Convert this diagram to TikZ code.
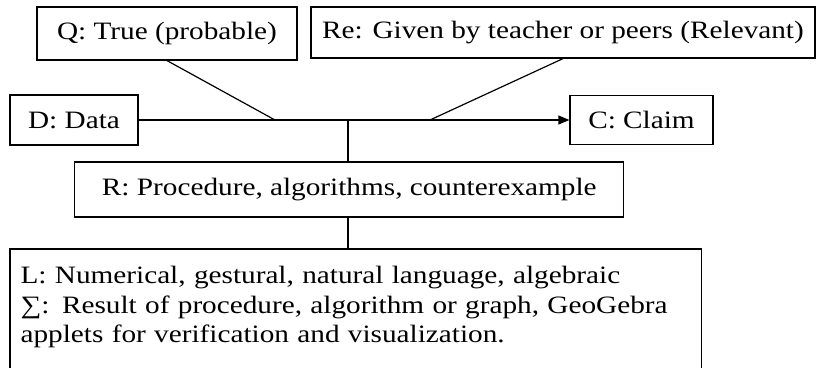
\documentclass[tikz,border=0pt]{standalone}
\usepackage{fontspec}
\setmainfont{Liberation Serif}[FakeStretch=1.17]
\usetikzlibrary{arrows.meta, positioning}

\tikzset{
  box/.style={draw, line width=1.2pt, inner sep=0pt, font=\fontsize{25}{29.5}\selectfont},
  link/.style={line width=1.2pt},
}

\begin{document}
\begin{tikzpicture}[x=1pt, y=-1pt, >={Triangle[length=11pt,width=9pt]}]
    \useasboundingbox (0,0) rectangle (819,367);
    \node[box, minimum width=260pt, minimum height=53pt] (q) at (167,33.5) {Q: True (probable)};
    \node[box, minimum width=504pt, minimum height=51pt] (re) at (563,32.5) {Re: Given by teacher or peers (Relevant)};
    \node[box, minimum width=128pt, minimum height=50pt] (d) at (74,120) {D: Data};
    \node[box, minimum width=143pt, minimum height=49pt] (c) at (641.5,120) {C: Claim};
    \node[box, minimum width=549pt, minimum height=55pt] (r) at (349.3,189.5) {R: Procedure, algorithms, counterexample};
    \node[box, draw=none, anchor=north west, inner xsep=10pt, inner ysep=17pt, text width=670pt, align=left] (l) at (10,249)
        {L: Numerical, gestural, natural language, algebraic\\
         ∑: Result of procedure, algorithm or graph, GeoGebra\\
         applets for verification and visualization.};
    % box of l runs past the bottom edge
    \draw[link] (l.north west) ++(0,140) |- (l.north east) -- ++(0,140);
    \coordinate (qfoot) at (275,120);
    \coordinate (refoot) at (430,120);
    \coordinate (rfoot) at (348,120);
    \draw[link, ->] (d) -- (c);
    \draw[link] (q.south) -- (qfoot);
    \draw[link] (re.south) -- (refoot);
    \draw[link] (rfoot) -- (rfoot |- r.north);
    \draw[link] (rfoot |- r.south) -- (rfoot |- l.north);
\end{tikzpicture}
\end{document}
